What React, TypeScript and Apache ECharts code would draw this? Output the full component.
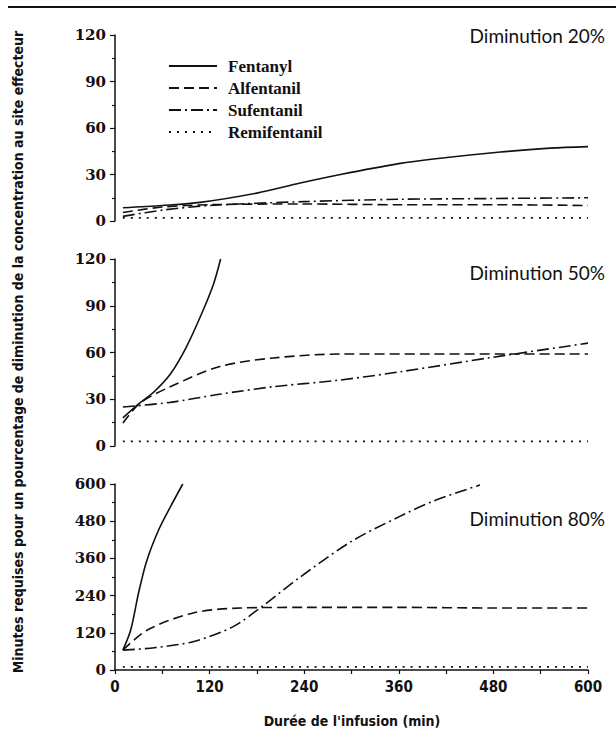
import React, { useEffect, useRef } from "react";
import * as echarts from "echarts";

// Panel 1: Diminution 20%  ([minutes of infusion, minutes required])
const fentanyl20 = [[10, 8.5], [60, 10], [108, 12], [180, 18], [235, 24.5], [286, 30], [360, 37], [404, 40], [489, 44.5], [552, 47], [600, 48]];
const alfentanil20 = [[10, 5.5], [60, 9], [120, 10.5], [240, 11], [360, 10.5], [480, 10.5], [600, 10]];
const sufentanil20 = [[10, 3], [60, 7], [120, 10], [240, 12.5], [360, 14], [480, 14.5], [600, 15]];
const remifentanil20 = [[10, 2], [120, 2], [240, 2], [360, 2], [480, 2], [600, 2]];

// Panel 2: Diminution 50%
const fentanyl50 = [[10, 18], [30, 27], [50, 35], [70, 46], [90, 63], [110, 85], [125, 104], [134, 120]];
const alfentanil50 = [[10, 14.7], [32, 27.6], [70, 38], [133, 51], [201, 56.5], [286, 59], [400, 59], [500, 59], [600, 59]];
const sufentanil50 = [[10, 25], [70, 28], [130, 33], [200, 38], [280, 42], [360, 47.5], [480, 57], [600, 66]];
const remifentanil50 = [[10, 3], [120, 3], [240, 3], [360, 3], [480, 3], [600, 3]];

// Panel 3: Diminution 80%
const fentanyl80 = [[10, 64], [20, 130], [30, 250], [40, 350], [55, 450], [70, 525], [86, 600]];
const alfentanil80 = [[10, 64], [41, 129], [99, 184], [159, 200], [240, 202], [360, 202], [480, 200], [600, 200]];
const sufentanil80 = [[10, 64], [50, 72], [100, 92], [150, 140], [184, 200], [235, 300], [300, 415], [360, 494], [404, 545], [463, 597]];
const remifentanil80 = [[10, 10], [120, 10], [240, 10], [360, 10], [480, 10], [600, 10]];

const drugNames = ["Fentanyl", "Alfentanil", "Sufentanil", "Remifentanil"];
const panelLabels = ["Diminution 20%", "Diminution 50%", "Diminution 80%"];
const xTicks = { min: 0, max: 600, interval: 120 };
const yTicksSmall = { min: 0, max: 120, interval: 30 };
const yTicksLarge = { min: 0, max: 600, interval: 120 };
const yTitle = "Minutes requises pour un pourcentage de diminution de la concentration au site effecteur";
const xTitle = "Durée de l'infusion (min)";

const panelsData = [
  [fentanyl20, alfentanil20, sufentanil20, remifentanil20],
  [fentanyl50, alfentanil50, sufentanil50, remifentanil50],
  [fentanyl80, alfentanil80, sufentanil80, remifentanil80],
];

const dashStyles: any[] = ["solid", [10, 5], [12, 4, 2, 4], [2, 6]];
const condensed = "'DejaVu Sans Condensed', 'DejaVu Sans', sans-serif";

export default function App() {
  const ref = useRef<HTMLDivElement>(null);
  useEffect(() => {
    if (!ref.current) return;
    const chart = echarts.init(ref.current, null, { renderer: "svg" });
    const grids = [
      { left: 115, top: 35, width: 473, height: 186 },
      { left: 115, top: 259, width: 473, height: 187 },
      { left: 115, top: 484, width: 473, height: 186 },
    ];
    const serifLabel = { fontFamily: "DejaVu Serif", fontWeight: "bold" as const, fontSize: 15, color: "#111" };
    const xAxes = grids.map((_, i) => ({
      type: "value",
      gridIndex: i,
      min: xTicks.min,
      max: xTicks.max,
      interval: xTicks.interval,
      show: i === 2,
      axisLine: { show: i === 2, lineStyle: { color: "#111", width: 1.5 } },
      axisTick: { show: i === 2, inside: false, length: 4, lineStyle: { color: "#111", width: 1.2 } },
      minorTick: { show: i === 2, splitNumber: 2, length: 4, lineStyle: { color: "#111", width: 1.2 } },
      splitLine: { show: false },
      axisLabel: {
        show: i === 2,
        margin: 9,
        fontFamily: condensed,
        fontWeight: "bold",
        fontSize: 15,
        color: "#111",
      },
    }));
    const yAxes = grids.map((_, i) => {
      const t = i === 2 ? yTicksLarge : yTicksSmall;
      return {
        type: "value",
        gridIndex: i,
        min: t.min,
        max: t.max,
        interval: t.interval,
        axisLine: { show: true, lineStyle: { color: "#111", width: 1.5 } },
        axisTick: { show: true, inside: false, length: 5, lineStyle: { color: "#111", width: 1.2 } },
        minorTick: { show: true, splitNumber: 2, length: 3, lineStyle: { color: "#111", width: 1.2 } },
        splitLine: { show: false },
        axisLabel: { ...serifLabel, margin: 9 },
      };
    });
    const series: any[] = [];
    panelsData.forEach((panel, pi) => {
      panel.forEach((data, di) => {
        series.push({
          type: "line",
          name: drugNames[di],
          xAxisIndex: pi,
          yAxisIndex: pi,
          data,
          smooth: 0.3,
          symbol: "none",
          lineStyle: { color: "#111", width: di === 3 ? 1.8 : 1.6, type: dashStyles[di] },
          itemStyle: { color: "#111" },
        });
      });
    });
    const labelYs = [35, 272, 518];
    chart.setOption({
      animation: false,
      grid: grids,
      xAxis: xAxes,
      yAxis: yAxes,
      series,
      legend: {
        data: drugNames,
        orient: "vertical",
        left: 163,
        top: 52,
        itemWidth: 48,
        itemHeight: 14,
        itemGap: 4,
        selectedMode: false,
        itemStyle: { color: "transparent", borderColor: "transparent", borderWidth: 0, opacity: 0 },
        textStyle: {
          fontFamily: "Liberation Serif",
          fontWeight: "bold",
          fontSize: 17,
          lineHeight: 18,
          color: "#111",
          padding: [0, 0, 0, 6],
        },
      },
      graphic: [
        { type: "rect", left: 8, top: 6, shape: { width: 608, height: 2 }, style: { fill: "#111" } },
        ...panelLabels.map((t, i) => ({
          type: "text",
          x: 605,
          y: labelYs[i],
          style: { text: t, fontFamily: "Lato", fontSize: 19, fill: "#111", textAlign: "right", textVerticalAlign: "middle" },
        })),
        {
          type: "text",
          x: 18,
          y: 352,
          rotation: Math.PI / 2,
          style: {
            text: yTitle,
            fontFamily: condensed,
            fontWeight: "bold",
            fontSize: 14,
            fill: "#111",
            textAlign: "center",
            textVerticalAlign: "middle",
          },
        },
        {
          type: "text",
          x: 352,
          y: 721,
          style: {
            text: xTitle,
            fontFamily: condensed,
            fontWeight: "bold",
            fontSize: 14,
            fill: "#111",
            textAlign: "center",
            textVerticalAlign: "middle",
          },
        },
      ],
    });
    return () => chart.dispose();
  }, []);
  return (
    <div
      ref={ref}
      style={{ position: "absolute", left: 0, top: 0, width: 616, height: 745, background: "#fff" }}
    />
  );
}
